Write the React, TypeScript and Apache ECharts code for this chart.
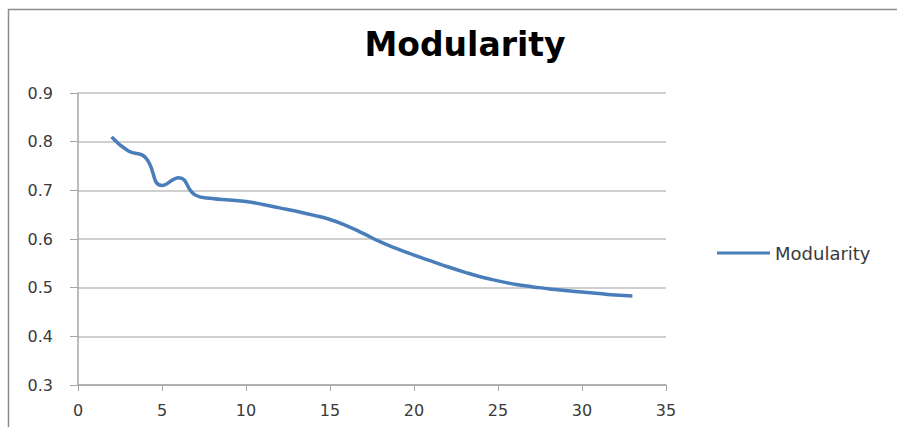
import React, { useEffect, useRef } from "react";
import * as echarts from "echarts";

const TITLE = "Modularity";
const SERIES_NAME = "Modularity";
const xValues = [2, 3, 4, 5, 6, 7, 8, 9, 10, 11, 12, 13, 14, 15, 16, 17, 18, 19, 20, 21, 22, 23, 24, 25, 26, 27, 28, 29, 30, 31, 32, 33];
const modularity = [0.81, 0.781, 0.768, 0.71, 0.726, 0.69, 0.683, 0.68, 0.677, 0.671, 0.664, 0.657, 0.649, 0.64, 0.627, 0.611, 0.594, 0.58, 0.567, 0.555, 0.543, 0.532, 0.522, 0.514, 0.507, 0.502, 0.498, 0.494, 0.491, 0.488, 0.485, 0.483];
const xMin = 0, xMax = 35, xStep = 5;
const yMin = 0.3, yMax = 0.9, yStep = 0.1;

export default function App() {
  const ref = useRef<HTMLDivElement>(null);
  useEffect(() => {
    if (!ref.current) return;
    const chart = echarts.init(ref.current, null, { renderer: "svg" });
    const labelFont = "DejaVu Sans";
    chart.setOption({
      animation: false,
      backgroundColor: "#ffffff",
      title: {
        text: TITLE,
        left: 460,
        top: 23,
        textAlign: "center",
        textStyle: { fontFamily: "DejaVu Sans", fontWeight: "bold", fontSize: 33, color: "#000000" },
      },
      graphic: [
        {
          type: "rect",
          shape: { x: 8.5, y: 9.5, width: 1000, height: 1000 },
          style: { fill: "none", stroke: "#8c8c8c", lineWidth: 1.5 },
          silent: true,
          z: -1,
        },
      ],
      legend: {
        data: [SERIES_NAME],
        left: 717,
        top: 244,
        padding: 0,
        icon: "rect",
        itemWidth: 53,
        itemHeight: 3,
        itemGap: 4,
        textStyle: { fontFamily: labelFont, fontSize: 18, color: "#3a3a3a" },
      },
      grid: { left: 78, right: 231, top: 93, bottom: 42, containLabel: false },
      xAxis: {
        type: "value",
        min: xMin,
        max: xMax,
        interval: xStep,
        axisLine: { show: true, lineStyle: { color: "#a6a6a6", width: 1.5 } },
        axisTick: { show: true, length: 6, lineStyle: { color: "#a6a6a6" } },
        splitLine: { show: false },
        axisLabel: { fontFamily: labelFont, fontSize: 16, color: "#3a3a3a", margin: 17 },
      },
      yAxis: {
        type: "value",
        min: yMin,
        max: yMax,
        interval: yStep,
        axisLine: { show: true, lineStyle: { color: "#a6a6a6", width: 1.5 } },
        axisTick: { show: true, length: 8, lineStyle: { color: "#a6a6a6" } },
        splitLine: { show: true, lineStyle: { color: "#bfbfbf", width: 1.5 } },
        axisLabel: {
          fontFamily: labelFont,
          fontSize: 16,
          color: "#3a3a3a",
          margin: 25,
          formatter: (v: number) => v.toFixed(1),
        },
      },
      series: [
        {
          name: SERIES_NAME,
          type: "line",
          data: xValues.map((x, i) => [x, modularity[i]]),
          smooth: 0.5,
          symbol: "none",
          lineStyle: { color: "#4a7ebb", width: 3.5 },
          itemStyle: { color: "#4a7ebb" },
        },
      ],
    });
    return () => chart.dispose();
  }, []);
  return (
    <div
      ref={ref}
      style={{ position: "absolute", left: 0, top: 0, width: 897, height: 427 }}
    />
  );
}
